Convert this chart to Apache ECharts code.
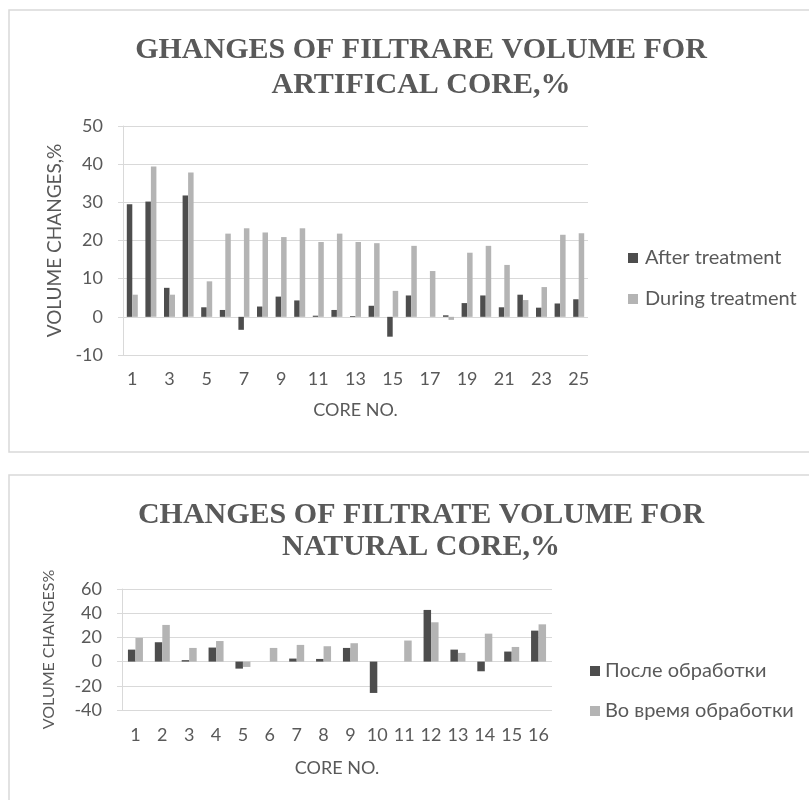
<!DOCTYPE html>
<html>
<head>
<meta charset="utf-8">
<script src="https://cdn.jsdelivr.net/npm/echarts@6/dist/echarts.min.js"></script>
<style>html,body{margin:0;padding:0;background:#fff;}#c{width:809px;height:800px;}</style>
</head>
<body>
<div id="c"></div>
<script>
// ---- Chart 1: artificial core ----
const titleA = 'GHANGES OF FILTRARE VOLUME FOR\nARTIFICAL CORE,%';
const catsA = ['1','2','3','4','5','6','7','8','9','10','11','12','13','14','15','16','17','18','19','20','21','22','23','24','25'];
const afterA = [29.5, 30.2, 7.6, 31.8, 2.5, 1.8, -3.4, 2.7, 5.3, 4.3, 0.3, 1.8, 0.2, 2.9, -5.2, 5.6, 0, 0.4, 3.6, 5.6, 2.5, 5.8, 2.4, 3.5, 4.6];
const duringA = [5.8, 39.4, 5.8, 37.8, 9.3, 21.8, 23.2, 22.1, 20.9, 23.2, 19.6, 21.8, 19.6, 19.3, 6.8, 18.6, 12.0, -0.8, 16.8, 18.6, 13.6, 4.4, 7.8, 21.5, 21.9];
const seriesNamesA = ['After treatment', 'During treatment'];
const yNameA = 'VOLUME CHANGES,%';
const xNameA = 'CORE NO.';

// ---- Chart 2: natural core ----
const titleB = 'CHANGES OF FILTRATE VOLUME FOR\nNATURAL CORE,%';
const catsB = ['1','2','3','4','5','6','7','8','9','10','11','12','13','14','15','16'];
const afterB = [9.9, 16, 1.2, 11.6, -5.8, 0, 2.5, 2.2, 11.3, -25.9, 0, 42.7, 9.9, -8, 8.3, 25.6];
const duringB = [19.6, 30.3, 11.3, 17, -4.4, 11.3, 13.8, 12.7, 15.2, 0, 17.4, 32.5, 7.2, 23.1, 12.1, 30.8];
const seriesNamesB = ['После обработки', 'Во время обработки'];
const yNameB = 'VOLUME CHANGES%';
const xNameB = 'CORE NO.';

const DARK = '#4d4d4d', LIGHT = '#b4b4b4', TXT = '#595959', GRID = '#d9d9d9';
const SANS = 'Lato';

const chart = echarts.init(document.getElementById('c'), null, {renderer: 'canvas'});

function yAxis(gi, min, max, interval, name, gap, nfs) {
  return {
    type: 'value', gridIndex: gi, min: min, max: max, interval: interval,
    name: name, nameLocation: 'middle', nameGap: gap, nameRotate: 90,
    nameTextStyle: {color: TXT, fontFamily: SANS, fontSize: nfs},
    axisLine: {show: true, lineStyle: {color: GRID, width: 1}},
    axisTick: {show: true, length: 5, lineStyle: {color: GRID}},
    axisLabel: {color: TXT, fontFamily: SANS, fontSize: 18, margin: 20},
    splitLine: {show: true, lineStyle: {color: GRID, width: 1}}
  };
}
function xAxis(gi, cats, interval, name, gap, margin) {
  return {
    type: 'category', gridIndex: gi, data: cats,
    name: name, nameLocation: 'middle', nameGap: gap,
    nameTextStyle: {color: TXT, fontFamily: SANS, fontSize: 18},
    axisLine: {show: false}, axisTick: {show: false},
    axisLabel: {color: TXT, fontFamily: SANS, fontSize: 18, margin: margin, interval: interval}
  };
}

chart.setOption({
  animation: false,
  backgroundColor: '#fff',
  graphic: [
    {type: 'rect', shape: {x: 9, y: 10, width: 830, height: 442}, style: {fill: 'none', stroke: GRID, lineWidth: 1.5}, silent: true},
    {type: 'rect', shape: {x: 9, y: 475, width: 830, height: 400}, style: {fill: 'none', stroke: GRID, lineWidth: 1.5}, silent: true}
  ],
  title: [
    {text: titleA, left: 416, top: 28, textAlign: 'center',
     textStyle: {fontFamily: 'Liberation Serif', fontWeight: 'bold', fontSize: 30, lineHeight: 35, color: TXT}},
    {text: titleB, left: 416, top: 494, textAlign: 'center',
     textStyle: {fontFamily: 'Liberation Serif', fontWeight: 'bold', fontSize: 30, lineHeight: 32, color: TXT}}
  ],
  legend: [
    {data: seriesNamesA, orient: 'vertical', left: 623, top: 243, itemWidth: 10, itemHeight: 10, itemGap: 21,
     icon: 'rect', textStyle: {color: TXT, fontFamily: SANS, fontSize: 20, padding: [0, 0, 0, 2]}},
    {data: seriesNamesB, orient: 'vertical', left: 585, top: 656, itemWidth: 10, itemHeight: 10, itemGap: 20,
     icon: 'rect', textStyle: {color: TXT, fontFamily: SANS, fontSize: 20, padding: [0, 0, 0, 0]}}
  ],
  grid: [
    {left: 123, top: 126, width: 465, height: 229},
    {left: 122, top: 589, width: 430, height: 121}
  ],
  xAxis: [
    xAxis(0, catsA, 1, xNameA, 46, 15),
    xAxis(1, catsB, 0, xNameB, 49, 16)
  ],
  yAxis: [
    yAxis(0, -10, 50, 10, yNameA, 55, 19),
    yAxis(1, -40, 60, 20, yNameB, 65, 16)
  ],
  series: [
    {name: seriesNamesA[0], type: 'bar', xAxisIndex: 0, yAxisIndex: 0, data: afterA, barWidth: 5.5, barGap: '0%', itemStyle: {color: DARK}},
    {name: seriesNamesA[1], type: 'bar', xAxisIndex: 0, yAxisIndex: 0, data: duringA, barWidth: 5.5, barGap: '0%', itemStyle: {color: LIGHT}},
    {name: seriesNamesB[0], type: 'bar', xAxisIndex: 1, yAxisIndex: 1, data: afterB, barWidth: 7.5, barGap: '0%', itemStyle: {color: DARK}},
    {name: seriesNamesB[1], type: 'bar', xAxisIndex: 1, yAxisIndex: 1, data: duringB, barWidth: 7.5, barGap: '0%', itemStyle: {color: LIGHT}}
  ]
});
</script>
</body>
</html>
